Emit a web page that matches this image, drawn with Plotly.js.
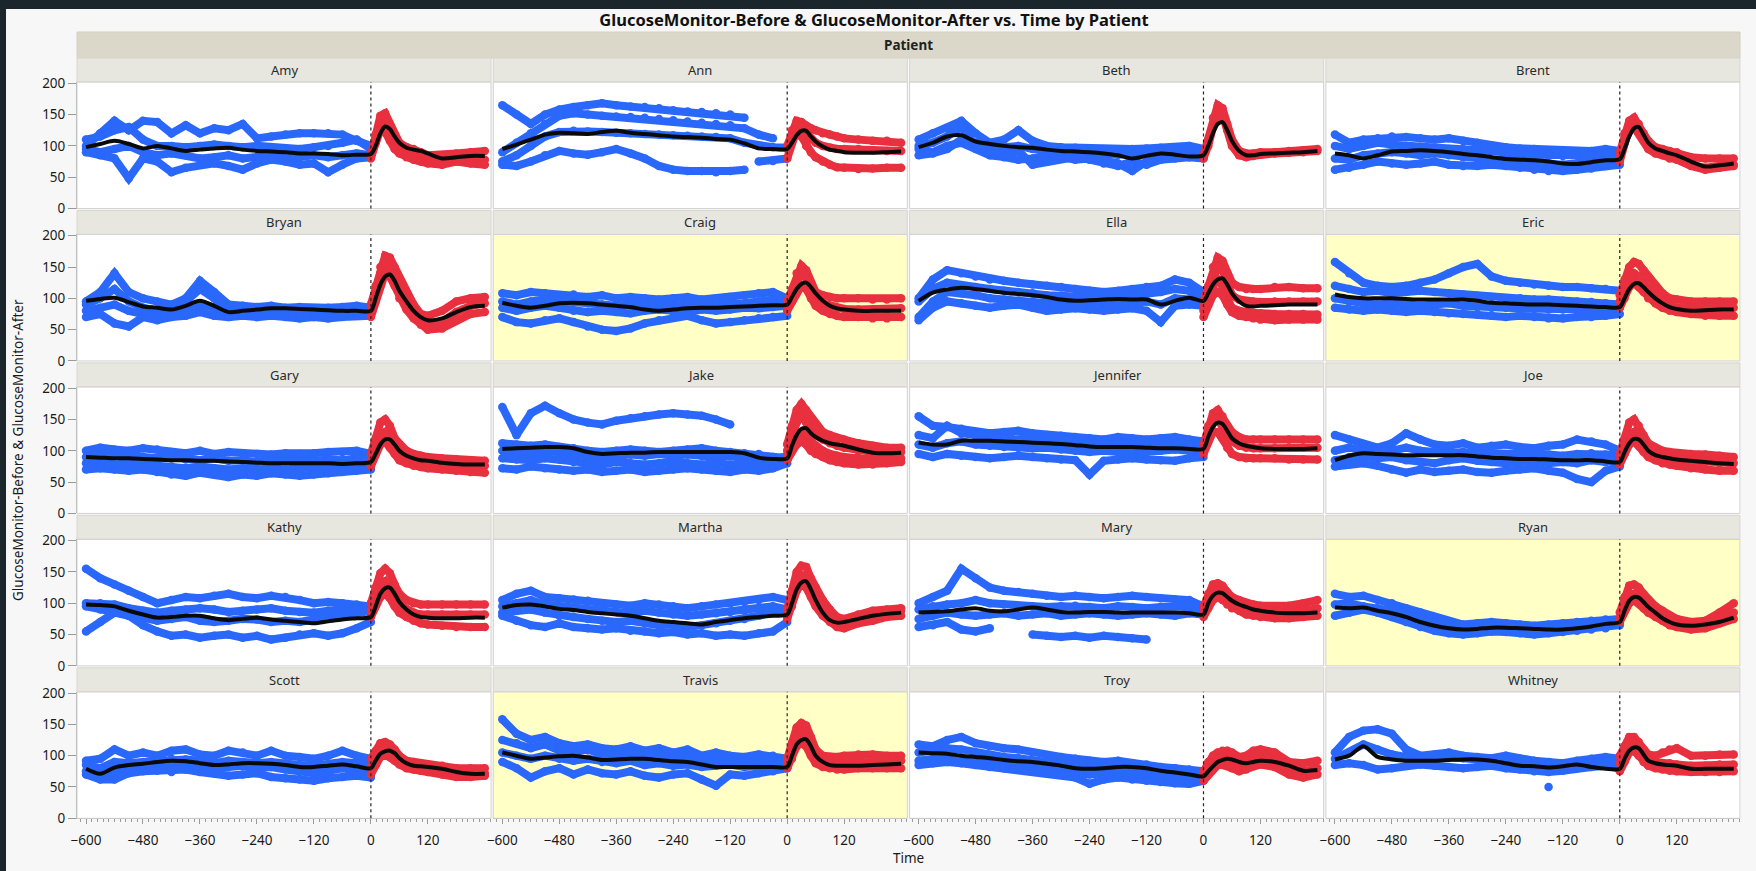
<!DOCTYPE html>
<html><head><meta charset="utf-8">
<script src="https://cdn.plot.ly/plotly-3.0.1.min.js"></script>
<style>
html,body{margin:0;padding:0;background:#1b252c;width:1756px;height:871px;overflow:hidden}
#chart{position:absolute;left:6px;top:9px;width:1750px;height:862px}
</style></head><body><div id="chart"></div>
<script>
const patients = ['Amy','Ann','Beth','Brent','Bryan','Craig','Ella','Eric','Gary','Jake','Jennifer','Joe','Kathy','Martha','Mary','Ryan','Scott','Travis','Troy','Whitney'];
const highlighted = ['Craig','Eric','Ryan','Travis'];
const beforeTimes = [-600,-570,-540,-510,-480,-450,-420,-390,-360,-330,-300,-270,-240,-210,-180,-150,-120,-90,-60,-30,0];
const afterTimes = [0,10,20,30,40,50,60,75,90,105,120,150,180,210,240];
const xTickVals = [-600,-480,-360,-240,-120,0,120];
const yTickVals = [0,50,100,150,200];

const amyBefore = [
 [100,120,140,125,140,138,120,133,120,128,125,135,112,115,118,120,120,120,118,108,100],
 [110,115,125,130,110,100,100,98,100,102,100,98,100,98,95,95,98,100,105,110,95],
 [95,90,95,100,90,85,88,85,80,82,85,80,82,85,80,82,85,82,85,88,85],
 [90,85,80,48,80,75,58,65,70,72,68,62,72,78,75,70,72,58,70,80,82]];
const amyAfter = [
 [85,118,148,152,135,118,105,98,95,90,85,85,88,90,92],
 [80,110,135,138,120,102,94,90,85,80,78,75,78,80,78],
 [82,105,125,122,108,95,88,82,78,75,72,70,75,72,70]];
const amySmooth = [98,103,108,103,96,100,96,92,94,96,97,94,92,91,90,88,88,87,85,86,87, 100,120,131,127,115,105,97,94,92,88,80,82,84,84];

const annBefore = [
 [165,150,135,150,158,162,165,168,165,163,162,160,157,155,154,152,150,145,null,null,null],
 [90,105,120,135,148,152,150,148,147,146,145,143,141,139,137,135,133,128,118,112,null],
 [75,85,100,115,122,124,123,122,121,120,119,118,117,116,115,114,112,105,100,98,97],
 [70,68,75,85,92,88,86,90,95,88,80,68,62,60,60,58,60,62,null,null,null],
 [null,null,null,null,null,null,null,null,null,null,null,null,null,null,null,null,null,null,75,76,80]];
const annAfter = [
 [100,125,140,138,132,128,125,120,118,115,112,110,108,108,105],
 [95,115,135,130,120,110,105,100,97,95,95,95,93,92,92],
 [80,105,125,115,100,90,82,75,70,66,65,63,64,65,65]];
const annSmooth = [95,102,110,118,121,120,119,122,124,121,119,117,115,114,113,111,110,104,96,95,95, 105,117,124,124,115,107,99,94,92,90,89,89,90,91];

const bethBefore = [
 [110,120,128,140,120,105,110,125,108,100,98,97,95,95,94,95,96,97,98,100,95],
 [100,105,115,130,100,95,98,100,95,92,92,90,88,88,86,88,90,92,94,95,90],
 [95,90,100,105,95,85,82,78,80,85,82,78,80,76,72,60,75,80,82,85,85],
 [85,88,95,110,105,90,85,92,70,75,80,82,78,72,68,75,70,78,80,82,80]];
const bethAfter = [
 [85,110,145,165,160,135,110,92,88,88,90,90,92,93,95],
 [80,100,130,150,150,125,100,85,82,84,86,88,89,90,92]];
const bethSmooth = [98,105,115,117,107,103,100,98,97,94,92,91,90,88,85,80,84,88,86,83,85, 100,120,135,138,125,108,92,85,85,87,88,89,90,92];

const brentBefore = [
 [118,105,110,112,115,114,112,110,112,108,105,100,98,96,95,92,92,90,92,95,92],
 [100,95,100,105,102,100,98,96,95,95,93,92,88,86,86,85,84,85,86,88,88],
 [80,78,85,88,90,88,85,88,85,82,80,78,78,75,72,72,70,72,75,78,80],
 [62,65,70,75,72,70,72,75,70,68,68,70,68,65,62,60,60,62,64,68,70]];
const brentAfter = [
 [90,120,140,145,135,120,108,98,95,92,90,82,80,80,80],
 [75,105,130,140,128,112,100,92,88,85,82,70,65,68,70],
 [85,110,125,130,120,108,95,88,85,80,78,68,62,65,68]];
const brentSmooth = [88,85,80,85,91,92,93,92,90,87,85,82,79,78,77,75,72,71,74,77,79, 95,115,128,130,118,105,96,92,88,85,75,67,69,72];

const bryanBefore = [
 [95,110,140,110,100,95,90,100,128,110,90,88,86,88,85,86,84,85,86,88,85],
 [90,100,115,95,85,80,82,95,115,100,80,82,80,82,80,80,78,80,80,82,80],
 [80,85,90,80,75,70,75,80,90,85,75,78,76,78,76,75,74,75,76,78,78],
 [70,75,60,55,70,65,70,72,78,72,70,72,70,72,70,68,70,68,70,72,72]];
const bryanAfter = [
 [90,120,150,168,165,150,130,110,90,75,72,80,95,100,102],
 [80,110,140,155,150,135,115,95,78,65,60,62,78,88,92],
 [70,95,120,140,135,120,100,82,68,58,50,52,65,75,78]];
const bryanSmooth = [96,99,101,94,87,85,82,88,96,88,78,80,82,84,84,83,82,81,80,80,80, 100,122,135,138,128,112,95,80,70,65,68,78,86,88];

const craigBefore = [
 [108,105,110,108,105,106,102,105,100,102,100,98,100,102,98,100,102,105,108,110,100],
 [95,90,95,98,96,95,92,90,88,90,92,90,88,90,92,90,90,92,95,98,95],
 [85,80,85,88,85,80,78,80,78,76,80,82,80,78,82,80,82,85,84,86,88],
 [70,62,60,65,68,62,55,50,48,52,60,65,70,72,65,60,62,65,68,70,72]];
const craigAfter = [
 [95,115,140,152,145,125,110,105,102,100,100,100,98,98,100],
 [85,100,125,140,132,115,100,92,88,85,83,82,82,82,84],
 [80,95,110,120,115,100,88,80,75,72,70,70,68,68,70]];
const craigSmooth = [93,88,85,88,92,93,92,90,88,86,82,80,82,84,85,85,86,87,88,89,90, 102,115,123,125,118,108,96,88,84,82,80,80,80,80];

const ellaBefore = [
 [100,130,145,140,135,130,128,125,122,120,118,115,112,110,112,115,118,120,130,125,110],
 [95,115,125,120,118,115,112,110,108,105,104,102,100,100,102,104,106,110,115,112,100],
 [70,95,110,108,105,100,98,96,95,92,90,92,94,92,90,92,95,90,100,98,95],
 [65,85,95,92,88,85,88,90,85,80,82,84,82,80,82,84,80,62,88,90,88]];
const ellaAfter = [
 [95,120,150,165,160,140,125,118,115,115,115,118,118,116,116],
 [90,110,135,150,145,120,105,98,95,95,94,95,95,95,95],
 [80,100,120,130,120,100,85,80,78,75,76,75,75,75,74],
 [70,90,105,110,105,90,78,72,70,68,66,65,66,66,66]];
const ellaSmooth = [96,109,114,117,115,112,109,107,105,102,98,96,97,98,99,98,98,90,96,101,96, 108,122,130,132,122,108,95,88,87,88,89,90,90,90];

const ericBefore = [
 [158,140,125,120,118,120,125,130,140,150,155,135,128,125,122,120,118,118,116,115,112],
 [120,115,110,112,108,110,112,110,108,106,104,102,100,100,98,98,96,95,94,92,90],
 [100,95,92,90,92,90,88,90,92,88,86,85,85,84,83,82,82,80,82,84,85],
 [85,82,80,82,80,78,80,78,76,75,74,72,70,72,70,68,68,70,70,72,75]];
const ericAfter = [
 [105,130,150,158,155,145,135,120,108,100,98,95,95,95,95],
 [95,115,135,140,135,125,115,105,95,88,85,85,85,85,85],
 [85,100,118,125,118,110,100,92,85,80,78,75,72,72,72]];
const ericSmooth = [106,102,100,100,100,99,98,98,98,98,96,93,92,91,90,90,89,88,87,86,86, 100,115,123,124,118,110,100,92,86,83,80,81,82,82];

const garyBefore = [
 [100,105,102,100,104,102,98,96,100,95,98,96,95,94,96,95,96,98,98,100,95],
 [90,92,95,92,90,88,90,86,85,88,84,85,82,85,84,82,84,86,85,88,85],
 [80,82,78,80,78,76,75,72,75,72,70,72,70,72,70,72,74,72,75,76,78],
 [70,72,70,68,70,66,62,60,65,62,58,62,60,64,62,60,62,64,66,68,70]];
const garyAfter = [
 [95,120,145,150,140,120,110,100,95,92,90,88,86,85,84],
 [85,105,125,130,120,105,95,90,86,84,82,80,78,76,76],
 [75,95,110,115,105,95,85,80,76,74,72,70,68,66,65]];
const garySmooth = [90,89,88,88,87,86,85,85,84,84,83,82,81,80,80,80,80,80,79,80,82, 95,110,118,118,110,100,92,88,85,84,81,79,78,78];

const jakeBefore = [
 [170,125,160,172,160,150,145,142,148,152,155,158,160,158,156,150,142,null,null,null,null],
 [112,110,108,110,106,104,100,98,100,102,100,98,100,102,104,100,98,96,95,90,88],
 [100,98,96,100,98,95,92,90,92,94,92,95,92,94,92,90,92,90,88,85,92],
 [88,86,85,88,86,82,80,78,82,80,78,80,82,80,78,80,78,80,78,80,85],
 [72,70,75,72,70,68,70,66,68,70,66,68,70,72,70,68,66,70,68,72,80]];
const jakeAfter = [
 [110,140,165,175,165,150,140,130,125,120,118,112,108,105,105],
 [100,125,145,155,145,135,125,118,112,108,105,100,98,96,98],
 [90,110,125,130,125,115,108,100,95,92,90,88,85,85,88],
 [85,100,110,115,110,100,95,90,85,82,80,78,78,80,82]];
const jakeSmooth = [103,104,105,106,106,104,98,95,96,97,97,98,98,98,98,98,98,96,89,87,88, 108,125,135,136,128,122,116,112,110,108,102,97,96,97];

const jenniferBefore = [
 [155,140,138,135,130,128,130,132,128,125,124,122,120,118,122,120,118,120,122,118,115],
 [125,120,140,128,125,122,120,118,122,120,118,115,112,110,112,110,108,110,112,110,108],
 [110,105,112,115,110,108,106,105,104,105,102,100,98,100,98,96,98,100,102,100,98],
 [95,90,95,92,90,88,90,92,90,88,86,85,62,84,86,88,86,85,84,88,90]];
const jenniferAfter = [
 [110,140,160,165,155,140,130,122,118,118,118,118,118,118,118],
 [100,125,145,150,140,125,115,108,105,104,104,104,105,105,105],
 [95,115,130,130,120,105,95,90,88,88,88,88,86,86,86]];
const jenniferSmooth = [113,110,110,116,116,116,115,114,113,112,111,109,107,106,106,106,105,104,104,103,103, 122,138,145,143,132,120,112,108,106,104,103,103,103,104];

const joeBefore = [
 [125,118,110,105,112,128,118,110,108,112,105,108,110,106,104,108,110,118,115,110,100],
 [100,105,100,98,100,105,100,98,96,98,95,96,94,95,96,94,92,95,96,94,92],
 [85,90,92,88,90,85,82,80,85,88,84,82,80,82,84,80,82,80,85,82,86],
 [75,78,80,76,70,65,70,66,68,70,66,65,68,70,72,68,65,55,50,68,75]];
const joeAfter = [
 [95,120,145,150,140,125,112,105,100,98,96,95,94,92,90],
 [85,105,125,130,120,110,100,95,90,88,86,84,82,80,80],
 [78,95,110,115,108,98,90,85,80,78,76,72,70,68,68]];
const joeSmooth = [85,92,96,95,94,93,93,93,93,93,91,89,88,87,87,86,85,85,85,83,82, 98,112,119,118,110,100,93,90,88,86,84,82,80,79];

const kathyBefore = [
 [155,140,130,120,110,100,105,110,108,112,115,110,108,112,110,105,100,102,100,98,95],
 [100,100,98,92,88,85,88,90,92,90,86,88,90,92,88,86,85,88,90,92,95],
 [95,90,85,80,75,72,75,78,72,70,72,75,74,70,72,70,74,76,80,84,88],
 [55,70,85,80,65,55,48,50,45,48,50,45,48,42,45,50,52,48,52,60,70]];
const kathyAfter = [
 [100,125,148,155,148,130,115,105,100,98,98,98,98,98,98],
 [88,110,130,135,125,110,98,90,85,82,82,82,82,82,82],
 [78,95,110,115,108,95,85,78,72,68,66,64,62,62,62]];
const kathySmooth = [98,97,95,88,82,77,78,80,80,76,73,75,77,74,72,70,68,71,74,76,78, 95,115,124,125,115,102,90,82,78,77,76,76,77,77];

const marthaBefore = [
 [105,115,120,110,108,106,104,100,98,96,100,98,95,92,95,98,100,102,105,110,105],
 [95,100,105,98,95,92,90,88,86,84,88,85,82,80,82,84,86,88,92,95,90],
 [85,88,90,85,80,78,75,72,70,72,68,65,66,62,65,68,72,75,80,85,85],
 [80,72,65,62,68,62,60,58,60,56,55,52,54,50,52,48,50,48,52,55,70]];
const marthaAfter = [
 [90,120,150,160,158,140,125,105,90,78,75,82,88,90,92],
 [82,108,135,145,140,125,108,90,78,70,68,75,80,85,88],
 [75,95,120,130,125,110,95,80,70,62,60,68,72,78,80]];
const marthaSmooth = [93,97,98,95,91,89,86,84,82,80,76,72,70,68,66,70,73,76,78,80,82, 100,122,133,135,122,105,85,73,69,70,75,80,83,85];

const maryBefore = [
 [100,110,120,155,140,125,120,118,115,112,110,112,110,108,110,112,110,108,106,105,95],
 [90,95,98,100,105,100,98,96,95,94,95,96,94,92,95,94,92,94,96,95,90],
 [75,80,85,82,80,82,84,80,82,84,80,82,84,82,80,82,84,82,80,84,82],
 [62,65,70,58,55,60,null,null,50,48,46,48,45,48,46,44,42,null,null,null,null]];
const maryAfter = [
 [95,115,130,132,128,118,110,105,100,98,96,95,96,100,105],
 [85,100,115,120,115,108,100,95,90,88,86,85,85,88,92],
 [78,92,105,110,105,98,92,88,82,80,78,76,76,78,80]];
const marySmooth = [85,86,87,90,92,88,87,90,93,90,86,85,86,86,85,85,85,85,85,84,82, 100,112,117,116,110,104,98,94,90,88,85,84,84,85];

const ryanBefore = [
 [115,110,112,105,100,92,85,78,70,66,68,70,68,66,64,66,68,70,72,74,75],
 [98,100,95,92,88,82,75,68,62,60,62,64,62,60,58,60,62,64,66,68,70],
 [80,85,90,85,78,70,62,56,52,50,52,55,54,52,50,52,54,56,58,60,65]];
const ryanAfter = [
 [85,110,128,130,125,115,105,95,88,80,75,70,72,85,100],
 [75,95,112,115,110,100,92,85,78,72,68,62,65,75,85],
 [70,88,100,105,100,92,85,78,72,65,62,58,60,68,75]];
const ryanSmooth = [93,92,93,88,84,78,70,64,60,58,59,61,61,60,59,58,58,60,63,67,70, 88,104,110,109,102,94,85,76,70,66,64,66,70,77];

const scottBefore = [
 [92,95,110,100,105,100,108,110,102,100,108,105,100,108,100,98,95,100,108,100,95],
 [85,80,90,88,90,92,95,94,92,88,92,90,88,90,86,85,84,86,90,88,85],
 [75,65,75,80,82,85,86,84,80,78,82,84,80,82,78,74,72,76,80,75,72],
 [70,62,62,72,75,76,74,78,74,72,68,70,72,66,64,62,60,64,66,68,65]];
const scottAfter = [
 [95,108,120,122,118,110,100,92,90,88,86,84,80,80,80],
 [82,95,108,112,108,100,92,86,84,82,80,76,72,72,72],
 [70,85,98,102,98,92,86,80,78,76,74,70,66,66,68]];
const scottSmooth = [79,71,81,85,87,90,92,91,88,85,86,88,88,87,85,82,82,84,86,83,80, 92,103,107,108,104,96,88,84,83,82,79,74,71,71];

const travisBefore = [
 [158,135,125,130,120,115,118,112,110,115,108,112,105,110,100,105,100,98,102,100,95],
 [125,120,112,118,108,105,110,102,100,104,98,100,96,98,92,95,94,92,95,94,90],
 [105,100,95,100,95,92,95,90,88,92,85,88,84,86,82,84,86,82,85,86,85],
 [90,80,65,75,80,70,78,72,70,75,68,65,70,72,62,52,70,68,72,75,80]];
const travisAfter = [
 [95,120,145,152,148,130,110,100,98,98,100,102,102,100,100],
 [88,108,130,138,132,115,98,90,88,88,88,90,90,90,92],
 [80,95,115,120,115,100,88,82,80,78,78,80,80,80,80]];
const travisSmooth = [105,100,95,97,99,100,97,93,94,95,95,93,91,90,86,82,82,82,82,82,82, 100,118,125,126,115,100,90,85,84,84,84,85,86,87];

const troyBefore = [
 [118,115,125,130,120,115,112,110,105,100,98,95,92,90,92,88,86,82,80,78,75],
 [105,108,112,110,105,100,98,96,92,90,88,85,82,84,86,82,80,76,72,70,70],
 [92,95,98,95,92,88,85,82,80,78,75,72,70,72,74,70,68,66,64,62,65],
 [85,88,90,88,85,82,80,78,75,72,70,65,55,62,65,62,60,58,56,55,60]];
const troyAfter = [
 [75,90,100,105,108,108,105,98,100,108,110,105,90,88,92],
 [68,80,90,95,98,96,92,86,90,96,98,95,80,75,80],
 [60,70,80,85,85,84,80,75,78,84,86,82,70,65,70]];
const troySmooth = [105,104,103,100,98,96,93,91,90,87,84,80,79,80,82,82,80,76,73,70,67, 75,83,90,93,95,94,90,88,90,92,90,84,76,77];

const whitneyBefore = [
 [105,130,140,142,135,110,100,102,105,100,98,96,100,95,92,90,88,92,95,98,95],
 [95,105,118,110,102,98,96,95,98,96,94,92,95,92,88,86,85,88,90,92,90],
 [85,88,85,78,80,84,86,84,82,80,82,84,80,78,75,74,76,80,82,84,80],
 [null,null,null,null,null,null,null,null,null,null,null,null,null,null,null,50,null,null,null,null,null]];
const whitneyAfter = [
 [100,115,130,130,122,110,102,100,105,110,112,100,100,102,102],
 [88,105,120,122,115,100,92,90,88,88,86,84,84,86,86],
 [75,90,105,108,100,90,84,80,78,76,75,74,74,74,75]];
const whitneySmooth = [94,100,115,98,94,92,92,92,93,94,94,92,88,84,83,81,83,86,82,79,79, 95,108,113,112,102,92,88,86,85,84,79,79,79,79];

const panelData = [
 [amyBefore,amyAfter,amySmooth],[annBefore,annAfter,annSmooth],[bethBefore,bethAfter,bethSmooth],[brentBefore,brentAfter,brentSmooth],
 [bryanBefore,bryanAfter,bryanSmooth],[craigBefore,craigAfter,craigSmooth],[ellaBefore,ellaAfter,ellaSmooth],[ericBefore,ericAfter,ericSmooth],
 [garyBefore,garyAfter,garySmooth],[jakeBefore,jakeAfter,jakeSmooth],[jenniferBefore,jenniferAfter,jenniferSmooth],[joeBefore,joeAfter,joeSmooth],
 [kathyBefore,kathyAfter,kathySmooth],[marthaBefore,marthaAfter,marthaSmooth],[maryBefore,maryAfter,marySmooth],[ryanBefore,ryanAfter,ryanSmooth],
 [scottBefore,scottAfter,scottSmooth],[travisBefore,travisAfter,travisSmooth],[troyBefore,troyAfter,troySmooth],[whitneyBefore,whitneyAfter,whitneySmooth]];
const smoothTimes = beforeTimes.concat(afterTimes.slice(1));

// ---- geometry (page pixels) ----
const W = 1750, H = 862, OX = 6, OY = 9;
const px = p => (p - OX) / W;
const py = p => 1 - (p - OY) / H;
const colLeft = c => 77 + 416.3 * c;
const colW = 414;
const rowBottom = r => 208.5 + 152.45 * r;
const plotH = 126.5, stripH = 24;

const FONT = 'Noto Sans, Open Sans, sans-serif';
const BLUE = '#2a67fb', RED = '#e8303f';

const traces = [], shapes = [], annotations = [];
const layout = {
  width: W, height: H, margin: {l:0, r:0, t:0, b:0},
  paper_bgcolor: '#f7f7f7', plot_bgcolor: '#ffffff', showlegend: false,
  font: {family: FONT, color: '#222'},
  title: {text: '<b>GlucoseMonitor-Before & GlucoseMonitor-After vs. Time by Patient</b>',
          x: px(874), y: py(20), xref: 'paper', yref: 'paper', xanchor: 'center', yanchor: 'middle',
          font: {size: 16.5, family: FONT, color: '#111'}},
  shapes, annotations
};

// Patient header
shapes.push({type:'rect', xref:'paper', yref:'paper', x0:px(77), x1:px(1740), y0:py(58), y1:py(32),
  fillcolor:'#dbd8ca', line:{color:'#d2cfc0', width:1}, layer:'below'});
annotations.push({text:'<b>Patient</b>', xref:'paper', yref:'paper', x:px(908), y:py(45), showarrow:false,
  xanchor:'center', yanchor:'middle', font:{size:13.5, family:FONT, color:'#222'}});

patients.forEach((name, i) => {
  const r = Math.floor(i / 4), c = i % 4;
  const sfx = i === 0 ? '' : String(i + 1);
  const xa = 'x' + sfx, ya = 'y' + sfx;
  const L = colLeft(c), B = rowBottom(r), T = B - plotH;
  const isBottom = r === 4, isLeft = c === 0;

  layout['xaxis' + sfx] = {
    domain: [px(L), px(L + colW)], anchor: ya, range: [-619, 253],
    showgrid: false, zeroline: false, fixedrange: true,
    showline: isBottom, linecolor: '#a9a9a9', linewidth: 1,
    tickmode: 'array', tickvals: xTickVals,
    ticks: isBottom ? 'outside' : '', ticklen: 5, tickcolor: '#9a9a9a',
    showticklabels: isBottom, tickfont: {size: 13.5, family: FONT, color: '#1a1a1a'},
    ticklabelstandoff: 4,
    minor: isBottom ? {tick0: 0, dtick: 12, ticks: 'outside', ticklen: 3, tickcolor: '#9a9a9a'} : {ticks: ''}
  };
  layout['yaxis' + sfx] = {
    domain: [py(B), py(T)], anchor: xa, range: [0, 202],
    showgrid: false, zeroline: false, fixedrange: true,
    showline: isLeft, linecolor: '#a9a9a9', linewidth: 1,
    tickmode: 'array', tickvals: yTickVals,
    ticks: isLeft ? 'outside' : '', ticklen: 8, tickcolor: '#9a9a9a',
    showticklabels: isLeft, tickfont: {size: 13.5, family: FONT, color: '#1a1a1a'}
  };

  const xd = xa + ' domain', yd = ya + ' domain';
  if (highlighted.includes(name)) {
    shapes.push({type:'rect', xref:xd, yref:yd, x0:0, x1:1, y0:0, y1:1,
      fillcolor:'#ffffc6', line:{width:0}, layer:'below'});
  }
  shapes.push({type:'rect', xref:xd, yref:yd, x0:0, x1:1, y0:0, y1:1,
    fillcolor:'rgba(0,0,0,0)', line:{color:'#d3d3d3', width:1}, layer:'above'});
  shapes.push({type:'line', xref:xa, yref:yd, x0:0, x1:0, y0:0, y1:1,
    line:{color:'#222', width:1.2, dash:'dot'}, layer:'above'});

  // strip
  shapes.push({type:'rect', xref:'paper', yref:'paper', x0:px(L), x1:px(L + colW), y0:py(T), y1:py(T - stripH),
    fillcolor:'#e7e6df', line:{color:'#d8d7cf', width:1}, layer:'below'});
  annotations.push({text:name, xref:'paper', yref:'paper', x:px(L + colW/2), y:py(T - stripH/2), showarrow:false,
    xanchor:'center', yanchor:'middle', font:{size:13, family:FONT, color:'#2a2a2a'}});

  const [before, after, smooth] = panelData[i];
  before.forEach(s => traces.push({type:'scatter', mode:'lines+markers', x:beforeTimes, y:s, xaxis:xa, yaxis:ya,
    line:{color:BLUE, width:8}, marker:{color:BLUE, size:8.5}, connectgaps:false, hoverinfo:'skip', cliponaxis:true}));
  after.forEach(s => traces.push({type:'scatter', mode:'lines+markers', x:afterTimes, y:s, xaxis:xa, yaxis:ya,
    line:{color:RED, width:8}, marker:{color:RED, size:8.5}, connectgaps:false, hoverinfo:'skip', cliponaxis:true}));
  traces.push({type:'scatter', mode:'lines', x:smoothTimes, y:smooth, xaxis:xa, yaxis:ya,
    line:{color:'#0a0a0a', width:4, shape:'spline', smoothing:0.8}, hoverinfo:'skip'});
});

// axis titles
annotations.push({text:'Time', xref:'paper', yref:'paper', x:px(908), y:py(858), showarrow:false,
  xanchor:'center', yanchor:'middle', font:{size:13.5, family:FONT, color:'#1a1a1a'}});
annotations.push({text:'GlucoseMonitor-Before & GlucoseMonitor-After', xref:'paper', yref:'paper', x:px(18), y:py(450),
  showarrow:false, textangle:-90, xanchor:'center', yanchor:'middle', font:{size:13.5, family:FONT, color:'#1a1a1a'}});

Plotly.newPlot('chart', traces, layout, {staticPlot:true, displayModeBar:false});
</script></body></html>
